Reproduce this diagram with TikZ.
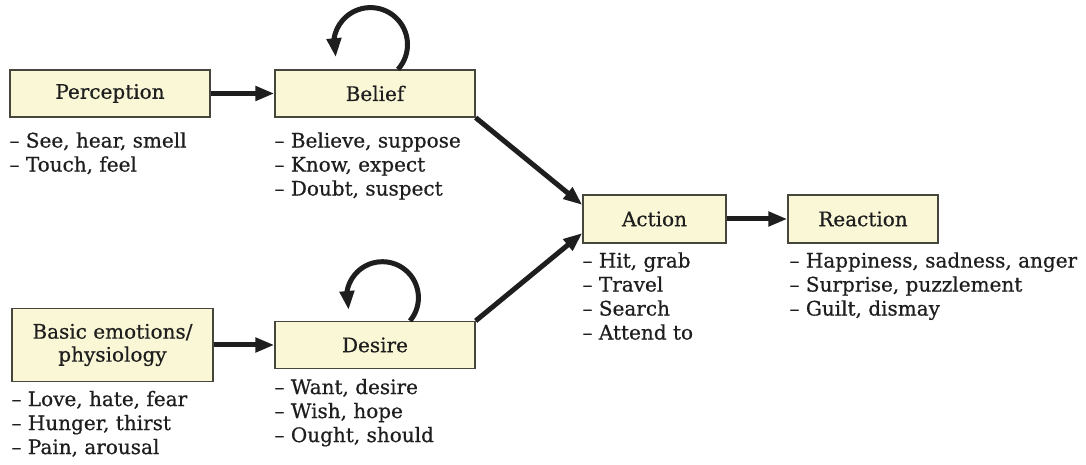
\documentclass[tikz,border=0pt]{standalone}
\usepackage{fontspec}
\setmainfont{DejaVu Serif}[FakeBold=0.6]
\usetikzlibrary{arrows.meta,calc,bending}
\definecolor{boxfill}{RGB}{250,247,214}
\definecolor{boxline}{RGB}{70,70,60}
\definecolor{ink}{RGB}{30,30,30}
\begin{document}
\begin{tikzpicture}[x=1pt,y=1pt,
  box/.style={draw=boxline, line width=1.3pt, fill=boxfill, minimum height=47pt, inner sep=0pt,
    font=\fontsize{20}{23}\selectfont, text=ink, align=center},
  items/.style={anchor=north west, inner sep=0pt, align=left,
    font=\fontsize{20}{24}\selectfont, text=ink},
  arr/.style={line width=5pt, draw=ink, -{Triangle[length=19pt,width=14pt]}}]
\useasboundingbox (0,0) rectangle (1086,465);
\fill[white] (0,0) rectangle (1086,465);
% boxes
\node[box, minimum width=200pt] (perception) at (110,371.5) {Perception};
\node[box, minimum width=200pt] (belief) at (375,371.5) {Belief};
\node[box, minimum width=201pt, minimum height=73pt] (basic) at (112.5,120) {Basic emotions/\\physiology};
\node[box, minimum width=200pt] (desire) at (375,120) {Desire};
\node[box, minimum width=143pt, minimum height=48pt] (action) at (654.5,246) {Action};
\node[box, minimum width=150pt, minimum height=48pt] (reaction) at (863,246) {Reaction};
% lists
\node[items] (perlist) at ($(perception.south west)+(0,-14.5)$) {– See, hear, smell\\– Touch, feel};
\node[items] (bellist) at ($(belief.south west)+(0,-14.5)$) {– Believe, suppose\\– Know, expect\\– Doubt, suspect};
\node[items] (baslist) at ($(basic.south west)+(0,-8.5)$) {– Love, hate, fear\\– Hunger, thirst\\– Pain, arousal};
\node[items] (deslist) at ($(desire.south west)+(0,-9.5)$) {– Want, desire\\– Wish, hope\\– Ought, should};
\node[items] (actlist) at ($(action.south west)+(0,-8.5)$) {– Hit, grab\\– Travel\\– Search\\– Attend to};
\node[items] (reallist) at ($(reaction.south west)+(2,-8.5)$) {– Happiness, sadness, anger\\– Surprise, puzzlement\\– Guilt, dismay};
% arrows
\draw[arr] (perception.east) -- (belief.west);
\draw[arr] (basic.east) -- (desire.west);
\draw[arr] (belief.south east) -- (action.169);
\draw[arr] (desire.north east) -- (action.191);
\draw[arr] (action.east) -- (reaction.west);
% loops
\coordinate (bl) at ($(belief.north)+(23,0)$);
\coordinate (dl) at ($(desire.north)+(35,0)$);
\draw[arr] (bl) arc[start angle=-42, end angle=200, radius=37];
\draw[arr] (dl) arc[start angle=-40, end angle=200, radius=36];
\end{tikzpicture}
\end{document}
